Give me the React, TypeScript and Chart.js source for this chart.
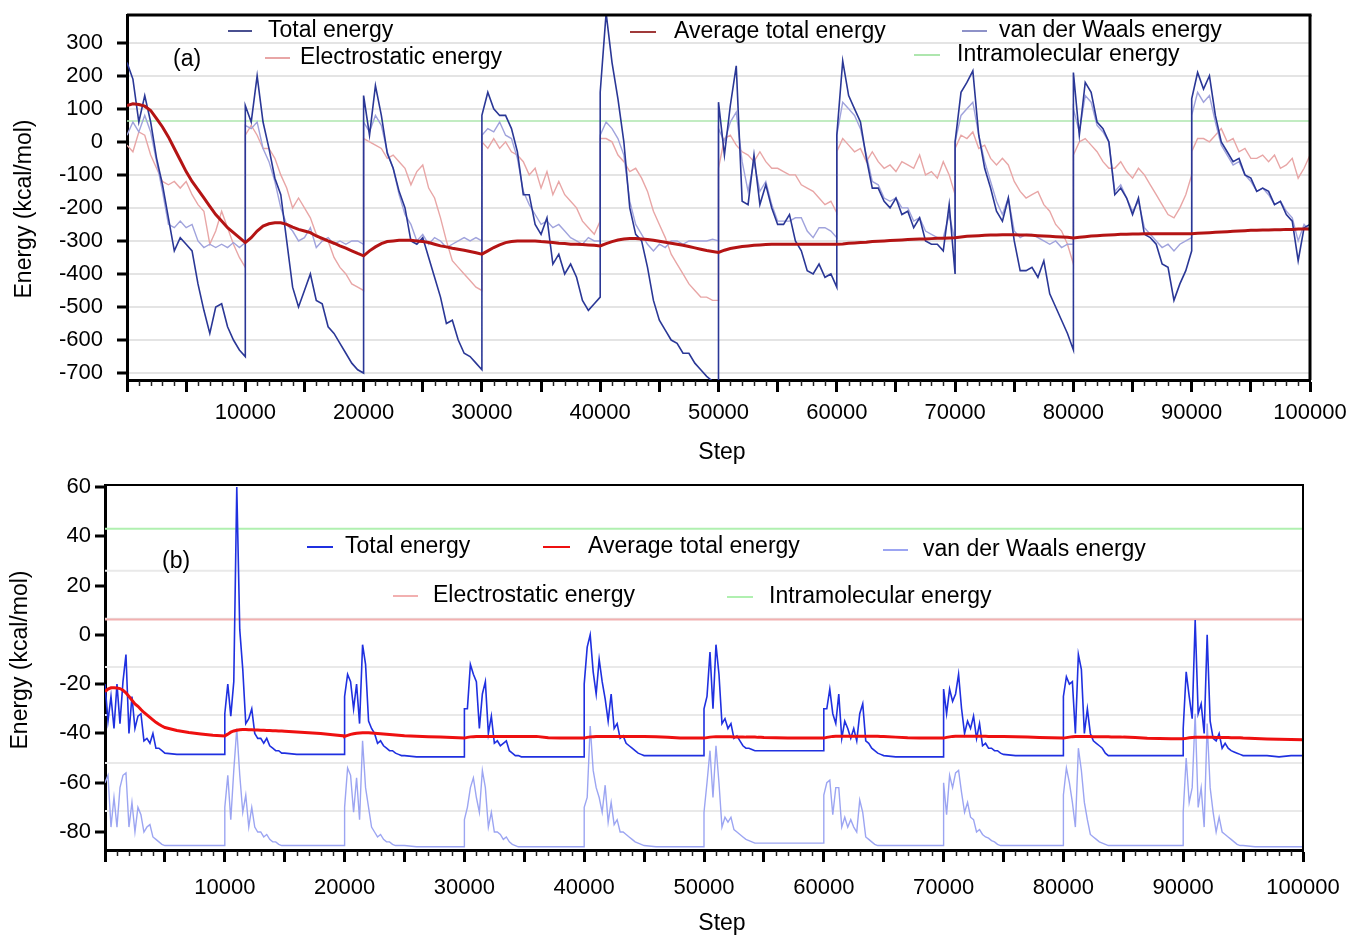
import React, { useEffect, useRef } from 'react';
import { Chart, registerables } from 'chart.js';

Chart.register(...registerables);

// ---------------- data ----------------
const CYCLE_STARTS = [0, 10000, 20000, 30000, 40000, 50000, 60000, 70000, 80000, 90000];
const OFFSETS_A = [0, 500, 1000, 1500, 2000, 2500, 3000, 3500, 4000, 4500, 5000, 5500, 6000, 6500, 7000, 7500, 8000, 8500, 9000, 9500, 10000];
const OFFSETS_B = [0, 250, 500, 750, 1000, 1250, 1500, 1750, 2000, 2250, 2500, 2750, 3000, 3250, 3500, 3750, 4000, 4250, 4500, 4750, 5000, 6000, 7000, 8000, 9000, 10000];
const CONST_STEPS = [0, 100000];
const X_LABELED = [10000, 20000, 30000, 40000, 50000, 60000, 70000, 80000, 90000, 100000];
const Y_TICKS_A = [-700, -600, -500, -400, -300, -200, -100, 0, 100, 200, 300];
const Y_TICKS_B = [-80, -60, -40, -20, 0, 20, 40, 60];
const GRID_B = [26, 6.5, -13, -32.5, -52, -71.5];

const LABEL_TOTAL = 'Total energy';
const LABEL_AVG = 'Average total energy';
const LABEL_VDW = 'van der Waals energy';
const LABEL_ELEC = 'Electrostatic energy';
const LABEL_INTRA = 'Intramolecular energy';
const X_TITLE = 'Step';
const Y_TITLE = 'Energy (kcal/mol)';

// Panel (a): 21 samples per 10000-step cycle
const TOTAL_A = [
  240, 190, 60, 140, 60, -50, -130, -230, -330, -290, -310, -330, -430, -510, -580, -500, -490, -560, -600, -630, -650,
  110, 60, 200, 60, -20, -110, -160, -300, -440, -500, -450, -400, -480, -490, -560, -580, -610, -640, -670, -690, -700,
  140, 20, 170, 80, -35, -80, -150, -200, -300, -310, -290, -350, -410, -470, -550, -540, -600, -640, -650, -670, -690,
  80, 150, 100, 80, 80, 40, -30, -160, -160, -250, -280, -230, -370, -340, -400, -370, -410, -480, -510, -490, -470,
  150, 390, 240, 130, 0, -200, -280, -300, -380, -480, -540, -570, -600, -610, -640, -640, -670, -690, -710, -725, -740,
  120, -40, 110, 230, -180, -190, -40, -190, -130, -200, -250, -250, -220, -300, -330, -390, -400, -370, -410, -400, -440,
  20, 245, 140, 100, 60, -50, -140, -140, -180, -200, -170, -220, -210, -260, -230, -300, -310, -310, -330, -190, -400,
  0, 150, 180, 215, 20, -80, -140, -210, -240, -170, -300, -390, -390, -380, -410, -360, -460, -500, -540, -580, -630,
  210, 20, 180, 150, 60, 40, 0, -160, -140, -170, -220, -170, -280, -290, -310, -370, -380, -480, -430, -390, -330,
  130, 210, 160, 200, 80, 0, -30, -60, -50, -100, -110, -150, -140, -150, -190, -180, -220, -240, -360, -260, -250,
];
const VDW_A = [
  20, 60, 30, 80, 30, -60, -150, -250, -260, -240, -260, -250, -300, -320, -310, -320, -310, -320, -305, -320, -305,
  50, 40, 60, -20, -60, -120, -200, -250, -270, -300, -290, -260, -320, -300, -290, -310, -300, -310, -300, -300, -310,
  60, 30, 80, 50, -30, -80, -160, -220, -250, -300, -280, -310, -290, -300, -320, -310, -300, -290, -300, -290, -300,
  20, 40, 30, 60, 20, 10, -50, -150, -190, -220, -250, -240, -260, -250, -270, -290, -300, -310, -290, -300, -300,
  20, 60, 40, 10, -40, -180, -250, -280, -310, -330, -310, -320, -300, -300, -310, -300, -300, -300, -300, -295, -300,
  40, 0, 60, 90, -60, -150, -60, -150, -120, -190, -240, -240, -240, -230, -230, -270, -290, -260, -260, -270, -290,
  20, 120, 100, 80, 40, -40, -120, -130, -170, -180, -170, -200, -200, -240, -230, -270, -280, -290, -290, -220, -300,
  0, 80, 100, 120, 20, -60, -120, -180, -220, -170, -270, -290, -280, -280, -290, -300, -310, -300, -320, -310, -310,
  100, 30, 140, 120, 50, 30, 0, -150, -130, -170, -210, -180, -260, -280, -300, -320, -310, -330, -310, -300, -290,
  80, 150, 120, 140, 60, -10, -40, -70, -60, -100, -120, -150, -140, -160, -190, -180, -210, -230, -300, -250, -270,
];
const ELEC_A = [
  -10, -30, 30, 20, -40, -80, -120, -130, -120, -140, -120, -160, -190, -210, -310, -270, -210, -260, -310, -350, -380,
  20, 50, 20, -20, -20, -50, -100, -140, -200, -170, -200, -230, -280, -300, -300, -350, -380, -400, -430, -440, -450,
  10, 0, -10, -20, -50, -40, -60, -80, -130, -90, -70, -140, -170, -230, -300, -360, -380, -400, -420, -440, -450,
  0, -20, 10, -20, 0, -30, -40, -60, -100, -80, -140, -90, -160, -120, -160, -180, -200, -240, -260, -280, -240,
  10, 10, 0, -40, -60, -90, -80, -110, -150, -210, -250, -290, -340, -370, -400, -430, -450, -470, -470, -480, -480,
  -80, 10, 20, -10, -30, -40, -60, -30, -60, -80, -80, -90, -100, -100, -130, -140, -150, -170, -190, -180, -215,
  -30, 10, -10, -30, -20, -60, -30, -60, -80, -70, -90, -60, -70, -80, -40, -100, -90, -110, -60, -100, -160,
  -20, 20, 10, 30, -20, -10, -50, -70, -50, -70, -120, -150, -170, -160, -150, -190, -210, -250, -270, -310, -370,
  -40, 0, 10, -10, -30, -60, -80, -80, -60, -90, -110, -80, -100, -130, -160, -190, -220, -230, -200, -160, -100,
  -30, 10, 10, 0, 20, 40, 0, 10, -30, -20, -50, -50, -40, -60, -40, -80, -70, -50, -110, -80, -40,
];
const AVG_A = [
  110, 115, 113, 108, 95, 70, 45, 15, -20, -55, -90, -120, -145, -170, -195, -220, -240, -260, -275, -290, -305,
  -305, -290, -270, -255, -248, -245, -245, -250, -258, -265, -270, -275, -285, -292, -300, -307, -315, -322, -330, -338, -345,
  -345, -330, -318, -308, -302, -300, -298, -298, -298, -300, -302, -305, -310, -315, -318, -322, -325, -328, -332, -336, -340,
  -340, -330, -320, -312, -305, -302, -300, -300, -300, -300, -302, -303, -305, -307, -308, -310, -310, -311, -312, -313, -315,
  -315, -308, -302, -297, -294, -293, -293, -294, -296, -298, -301, -304, -307, -310, -313, -317, -321, -325, -329, -332, -335,
  -335, -328, -323, -320, -317, -315, -313, -312, -311, -310, -310, -310, -310, -310, -310, -310, -310, -310, -310, -310, -310,
  -310, -309, -307, -306, -305, -304, -302, -301, -300, -299, -298, -297, -296, -295, -294, -294, -293, -292, -292, -291, -290,
  -290, -288, -286, -285, -284, -283, -282, -282, -281, -281, -281, -282, -282, -283, -284, -285, -286, -287, -288, -289, -291,
  -291, -289, -287, -285, -284, -283, -282, -281, -280, -280, -279, -279, -278, -278, -278, -278, -278, -278, -278, -278, -278,
  -278, -277, -276, -275, -274, -273, -272, -271, -270, -269, -268, -268, -267, -267, -266, -266, -265, -265, -264, -264, -264,
];
const INTRA_A = [63, 63];

// Panel (b): 26 samples per cycle (dense for the first 5000 steps)
const TOTAL_B = [
  -20, -35, -25, -38, -20, -36, -19, -8, -40, -25, -38, -33, -32, -43, -42, -44, -40, -46, -46, -47, -48, -48.5, -48.5, -48.5, -48.5, -48.5,
  -32, -20, -33, -19, 60, 2, -14, -36, -34, -30, -40, -42, -42, -44, -42, -45, -46, -47, -47, -48, -48, -48.5, -48.5, -48.5, -48.5, -48.5,
  -25, -16, -19, -30, -20, -36, -4, -12, -35, -38, -40, -44, -43, -45, -46, -47, -47, -48, -48.5, -49, -49, -49.5, -49.5, -49.5, -49.5, -49.5,
  -30, -30, -12, -16, -19, -38, -24, -19, -40, -33, -44, -43, -45, -44, -43, -47, -48, -49, -49, -49.5, -49.5, -49.5, -49.5, -49.5, -49.5, -49.5,
  -20, -5, 0, -15, -24, -10, -19, -26, -35, -24, -38, -36, -42, -41, -44, -45, -46, -47, -48, -48.5, -49, -49, -49, -49, -49, -49,
  -30, -25, -7, -30, -4, -16, -36, -34, -38, -36, -42, -41, -43, -45, -46, -46, -46.5, -47, -47, -47, -47, -47, -47, -47, -47, -47,
  -30, -30, -22, -32, -36, -24, -42, -35, -38, -42, -38, -43, -32, -28, -43, -44, -46, -47, -48, -48.5, -49, -49.5, -49.5, -49.5, -49.5, -49.5,
  -22, -32, -22, -27, -24, -16, -30, -40, -35, -38, -33, -42, -36, -45, -44, -46, -46, -47, -47, -48, -48.5, -49, -49, -49, -49, -49,
  -25, -17, -20, -19, -40, -8, -14, -40, -30, -40, -43, -44, -45, -46, -48, -49, -49, -49, -49, -49, -49, -49, -49, -49, -49, -49,
  -38, -15, -25, -34, 6, -32, -28, -40, 0, -35, -42, -43, -40, -46, -44, -46, -47, -47.5, -48, -48.5, -49, -49, -49, -49.5, -49, -49,
];
const VDW_B = [
  -60, -57, -78, -66, -78, -62, -57, -56, -78, -68, -80, -70, -73, -80, -78, -77, -82, -83, -84, -85, -85.5, -85.5, -85.5, -85.5, -85.5, -85.5,
  -70, -57, -75, -55, -38, -57, -72, -65, -78, -70, -78, -80, -80, -82, -81, -83, -84, -84, -85, -85.5, -85.5, -85.5, -85.5, -85.5, -85.5, -85.5,
  -70, -54, -57, -72, -58, -75, -43, -62, -70, -78, -80, -82, -81, -83, -84, -84, -85, -85.5, -85.5, -85.5, -85.5, -86, -86, -86, -86, -86,
  -75, -70, -62, -58, -66, -72, -55, -62, -78, -72, -80, -80, -81, -83, -82, -84, -85, -85.5, -86, -86, -86, -86, -86, -86, -86, -86,
  -70, -66, -37, -55, -62, -66, -72, -61, -76, -68, -77, -75, -80, -80, -81, -82, -83, -84, -84.5, -85, -85.5, -86, -86, -86, -86, -86,
  -72, -60, -47, -66, -45, -60, -78, -74, -76, -74, -79, -80, -81, -82, -83, -83.5, -84, -84.5, -84.5, -84.5, -84.5, -84.5, -84.5, -84.5, -84.5, -84.5,
  -65, -60, -59, -73, -62, -62, -78, -74, -78, -75, -78, -80, -67, -72, -82, -83, -84, -85, -85.5, -85.5, -85.5, -85.5, -85.5, -85.5, -85.5, -85.5,
  -60, -73, -57, -62, -56, -55, -64, -72, -68, -74, -75, -80, -79, -81, -82, -82.5, -83.5, -84, -85, -85.5, -85.5, -85.5, -85.5, -85.5, -85.5, -85.5,
  -65, -54, -60, -68, -78, -46, -55, -68, -75, -81, -82, -83, -84, -84.5, -85, -85.5, -85.5, -85.5, -85.5, -85.5, -85.5, -85.5, -85.5, -85.5, -85.5, -85.5,
  -72, -50, -68, -62, -32, -70, -62, -78, -36, -62, -72, -80, -74, -80, -81, -82, -83, -84, -85, -85.5, -85.5, -86, -86, -86, -86, -86,
];
const AVG_B = [
  -23, -22, -21.5, -21.5, -21.6, -21.8, -22.5, -23.5, -25, -26.5, -28, -29, -30.3, -31.5, -32.5, -33.5, -34.5, -35.5, -36.3, -37, -37.6, -38.8, -39.6, -40.2, -40.7, -41,
  -41, -40.3, -39.5, -39, -38.7, -38.5, -38.4, -38.4, -38.5, -38.5, -38.6, -38.6, -38.7, -38.7, -38.8, -38.8, -38.9, -38.9, -39, -39, -39.1, -39.4, -39.7, -40, -40.5, -41,
  -41.2, -40.8, -40.4, -40.1, -39.9, -39.8, -39.7, -39.7, -39.7, -39.8, -39.9, -40, -40.1, -40.2, -40.3, -40.4, -40.5, -40.6, -40.7, -40.8, -40.9, -41.1, -41.3, -41.5, -41.7, -41.9,
  -41.9, -41.6, -41.4, -41.3, -41.2, -41.2, -41.2, -41.2, -41.2, -41.2, -41.2, -41.2, -41.2, -41.2, -41.2, -41.2, -41.2, -41.2, -41.2, -41.2, -41.2, -41.2, -41.8, -41.9, -41.9, -41.9,
  -41.9, -41.6, -41.4, -41.3, -41.2, -41.2, -41.2, -41.2, -41.2, -41.2, -41.2, -41.2, -41.2, -41.2, -41.2, -41.2, -41.2, -41.2, -41.2, -41.2, -41.2, -41.3, -41.6, -41.9, -41.9, -41.9,
  -41.9, -41.7, -41.5, -41.4, -41.3, -41.3, -41.3, -41.3, -41.3, -41.3, -41.4, -41.4, -41.4, -41.4, -41.5, -41.5, -41.5, -41.5, -41.6, -41.6, -41.7, -41.8, -41.9, -41.9, -41.9, -41.9,
  -41.9, -41.6, -41.4, -41.2, -41.1, -41.1, -41.1, -41.1, -41.1, -41.1, -41.1, -41.1, -41.1, -41.1, -41.1, -41.1, -41.1, -41.1, -41.1, -41.2, -41.2, -41.5, -41.8, -41.9, -41.9, -41.9,
  -41.9, -41.6, -41.4, -41.2, -41.1, -41.1, -41.1, -41.1, -41.1, -41.1, -41.1, -41.1, -41.1, -41.1, -41.1, -41.2, -41.2, -41.2, -41.2, -41.2, -41.2, -41.3, -41.5, -41.7, -41.8, -41.9,
  -41.9, -41.7, -41.5, -41.3, -41.2, -41.2, -41.2, -41.2, -41.2, -41.2, -41.3, -41.3, -41.3, -41.3, -41.3, -41.3, -41.4, -41.4, -41.4, -41.4, -41.5, -41.7, -42, -42.1, -42.2, -42.2,
  -42.2, -42, -41.8, -41.7, -41.6, -41.6, -41.6, -41.6, -41.6, -41.6, -41.6, -41.7, -41.7, -41.7, -41.7, -41.7, -41.8, -41.8, -41.8, -41.8, -41.9, -42.1, -42.3, -42.4, -42.5, -42.6,
];
const ELEC_B = [6.2, 6.2];
const INTRA_B = [43, 43];

// ---------------- helpers ----------------
const FAMILY = '"Liberation Sans", Arial, Helvetica, sans-serif';
const STEPS_A = CYCLE_STARTS.flatMap((c) => OFFSETS_A.map((o) => c + o));
const STEPS_B = CYCLE_STARTS.flatMap((c) => OFFSETS_B.map((o) => c + o));
const pts = (xs: number[], ys: number[]) => xs.map((x, i) => ({ x, y: ys[i] }));

const lineDs = (label: string, xs: number[], ys: number[], color: string, width: number, order: number) => ({
  label,
  data: pts(xs, ys),
  borderColor: color,
  backgroundColor: color,
  borderWidth: width,
  pointRadius: 0,
  tension: 0,
  fill: false,
  order,
});

const panelLegendPlugin = {
  id: 'panelLegend',
  afterDraw(chart: any, _a: any, o: any) {
    const ctx = chart.ctx;
    ctx.save();
    ctx.font = o.font;
    ctx.textBaseline = 'middle';
    ctx.textAlign = 'left';
    for (const it of o.items) {
      const ds = chart.data.datasets[it.ds];
      ctx.strokeStyle = it.color || ds.borderColor;
      ctx.lineWidth = 2;
      ctx.beginPath();
      ctx.moveTo(it.x0, it.y);
      ctx.lineTo(it.x1, it.y);
      ctx.stroke();
      ctx.fillStyle = '#000';
      ctx.fillText(ds.label, it.tx, it.y);
    }
    ctx.fillStyle = '#000';
    ctx.fillText(o.tag.text, o.tag.x, o.tag.y);
    // axis titles
    ctx.textAlign = 'center';
    ctx.fillText(o.xTitle.text, o.xTitle.x, o.xTitle.y);
    ctx.translate(o.yTitle.x, o.yTitle.y);
    ctx.rotate(-Math.PI / 2);
    ctx.fillText(o.yTitle.text, 0, 0);
    ctx.restore();
  },
};

const minorTicksPlugin = {
  id: 'minorTicks',
  afterDraw(chart: any, _a: any, o: any) {
    const sc = chart.scales.x;
    const { ctx, chartArea } = chart;
    ctx.save();
    ctx.strokeStyle = o.color;
    ctx.lineWidth = o.width;
    for (let v = sc.min; v <= sc.max; v += o.step) {
      if (v % o.major === 0) continue;
      const px = Math.round(sc.getPixelForValue(v)) + 0.5;
      ctx.beginPath();
      ctx.moveTo(px, chartArea.bottom + 1);
      ctx.lineTo(px, chartArea.bottom + 1 + o.length);
      ctx.stroke();
    }
    ctx.restore();
  },
};

const framePlugin = {
  id: 'frame',
  afterDatasetsDraw(chart: any, _a: any, o: any) {
    const { ctx, chartArea: a } = chart;
    ctx.save();
    ctx.strokeStyle = o.color;
    ctx.lineWidth = o.top;
    ctx.beginPath();
    ctx.moveTo(a.left, a.top);
    ctx.lineTo(a.right + o.right / 2, a.top);
    ctx.stroke();
    ctx.lineWidth = o.right;
    ctx.beginPath();
    ctx.moveTo(a.right, a.top);
    ctx.lineTo(a.right, a.bottom);
    ctx.stroke();
    ctx.restore();
  },
};

const extraGridPlugin = {
  id: 'extraGrid',
  beforeDatasetsDraw(chart: any, _a: any, o: any) {
    if (!o.values || !o.values.length) return;
    const sc = chart.scales.y;
    const { ctx, chartArea: a } = chart;
    ctx.save();
    ctx.strokeStyle = o.color;
    ctx.lineWidth = o.width;
    for (const v of o.values) {
      const py = sc.getPixelForValue(v);
      ctx.beginPath();
      ctx.moveTo(a.left, py);
      ctx.lineTo(a.right, py);
      ctx.stroke();
    }
    ctx.restore();
  },
};

function panelConfig(s: any) {
  const font = { family: FAMILY, size: 22 };
  return {
    type: 'line',
    data: { datasets: s.datasets },
    options: {
      responsive: false,
      animation: false,
      devicePixelRatio: 1,
      events: [],
      layout: { padding: { left: 0, right: s.padRight, top: 15, bottom: 0 }, autoPadding: false },
      plugins: {
        legend: { display: false },
        tooltip: { enabled: false },
        panelLegend: {
          items: s.legend,
          tag: s.tag,
          font: `23px ${FAMILY}`,
          xTitle: { text: X_TITLE, x: 722, y: s.xTitleY },
          yTitle: { text: Y_TITLE, x: s.yTitleX, y: s.yTitleY },
        },
        minorTicks: { step: 1000, major: 5000, length: 5, width: 1.5, color: '#222' },
        frame: { color: '#000', top: s.frameTop, right: s.frameRight },
        extraGrid: { values: s.extraGrid, color: '#e9e9e9', width: 2 },
      },
      scales: {
        x: {
          type: 'linear',
          min: 0,
          max: 100000,
          afterFit: (sc: any) => {
            sc.height = s.xAxisHeight;
            sc.paddingLeft = 0;
            sc.paddingRight = 0;
            sc.paddingTop = 0;
            sc.paddingBottom = 0;
          },
          ticks: {
            stepSize: 5000,
            autoSkip: false,
            maxRotation: 0,
            minRotation: 0,
            padding: s.xTickPad,
            color: '#000',
            font,
            callback: (v: any) => (X_LABELED.includes(Number(v)) ? String(v) : ''),
          },
          grid: { drawOnChartArea: false, drawTicks: true, tickLength: 12, tickWidth: 3, tickColor: '#000' },
          border: { display: true, color: '#000', width: 3 },
          title: { display: false },
        },
        y: {
          type: 'linear',
          min: s.yMin,
          max: s.yMax,
          afterBuildTicks: (sc: any) => {
            sc.ticks = s.yTicks.map((v: number) => ({ value: v }));
          },
          afterFit: (sc: any) => {
            sc.width = s.yAxisWidth;
            sc.paddingTop = 0;
            sc.paddingBottom = 0;
            sc.paddingLeft = 0;
            sc.paddingRight = 0;
          },
          ticks: { padding: s.yTickPad, color: '#000', font, callback: (v: any) => String(v) },
          grid: {
            drawOnChartArea: s.yGridOnArea,
            color: '#e4e4e4',
            lineWidth: 2,
            drawTicks: true,
            tickLength: 10,
            tickWidth: 3,
            tickColor: '#000',
          },
          border: { display: true, color: '#000', width: 3 },
          title: { display: false },
        },
      },
    },
    plugins: [extraGridPlugin, framePlugin, minorTicksPlugin, panelLegendPlugin],
  };
}

function configA() {
  const datasets = [
    lineDs(LABEL_TOTAL, STEPS_A, TOTAL_A, '#2a3796', 1.6, 1),
    lineDs(LABEL_ELEC, STEPS_A, ELEC_A, '#e8a6a6', 1.4, 3),
    lineDs(LABEL_AVG, STEPS_A, AVG_A, '#b41414', 3, 0),
    lineDs(LABEL_VDW, STEPS_A, VDW_A, '#a0a3dc', 1.4, 2),
    lineDs(LABEL_INTRA, CONST_STEPS, INTRA_A, '#aee6ae', 1.5, 4),
  ];
  return panelConfig({
    datasets,
    padRight: 44,
    xAxisHeight: 90,
    xTickPad: 8,
    yMin: -721,
    yMax: 384,
    yTicks: Y_TICKS_A,
    yAxisWidth: 127,
    yTickPad: 14,
    yGridOnArea: true,
    extraGrid: [],
    frameTop: 3,
    frameRight: 3,
    xTitleY: 453,
    yTitleX: 25,
    yTitleY: 209,
    legend: [
      { ds: 0, x0: 228, x1: 252, y: 31, tx: 268, color: '#4a5090' },
      { ds: 1, x0: 265, x1: 290, y: 58, tx: 300 },
      { ds: 2, x0: 630, x1: 656, y: 32, tx: 674, color: '#a03a3a' },
      { ds: 3, x0: 962, x1: 987, y: 31, tx: 999, color: '#8e92c8' },
      { ds: 4, x0: 914, x1: 940, y: 55, tx: 957 },
    ],
    tag: { text: '(a)', x: 173, y: 60 },
  });
}

function configB() {
  const datasets = [
    lineDs(LABEL_TOTAL, STEPS_B, TOTAL_B, '#1f30e0', 1.6, 1),
    lineDs(LABEL_AVG, STEPS_B, AVG_B, '#ee1010', 3, 0),
    lineDs(LABEL_VDW, STEPS_B, VDW_B, '#9ca5f2', 1.4, 2),
    lineDs(LABEL_ELEC, CONST_STEPS, ELEC_B, '#f2b0b0', 2, 3),
    lineDs(LABEL_INTRA, CONST_STEPS, INTRA_B, '#b0f0b0', 2, 4),
  ];
  return panelConfig({
    datasets,
    padRight: 51,
    xAxisHeight: 87,
    xTickPad: 13,
    yMin: -87.3,
    yMax: 60.8,
    yTicks: Y_TICKS_B,
    yAxisWidth: 105,
    yTickPad: 4,
    yGridOnArea: false,
    extraGrid: GRID_B,
    frameTop: 2,
    frameRight: 2,
    xTitleY: 454,
    yTitleX: 21,
    yTitleY: 190,
    legend: [
      { ds: 0, x0: 307, x1: 333, y: 77, tx: 345 },
      { ds: 1, x0: 543, x1: 570, y: 77, tx: 588 },
      { ds: 2, x0: 883, x1: 908, y: 80, tx: 923 },
      { ds: 3, x0: 393, x1: 418, y: 126, tx: 433 },
      { ds: 4, x0: 727, x1: 753, y: 127, tx: 769 },
    ],
    tag: { text: '(b)', x: 162, y: 92 },
  });
}

export default function App() {
  const refA = useRef<HTMLCanvasElement>(null);
  const refB = useRef<HTMLCanvasElement>(null);
  useEffect(() => {
    const a = new Chart(refA.current as HTMLCanvasElement, configA() as any);
    const b = new Chart(refB.current as HTMLCanvasElement, configB() as any);
    return () => {
      a.destroy();
      b.destroy();
    };
  }, []);
  return (
    <div style={{ position: 'absolute', left: 0, top: 0, width: 1354, height: 937, background: '#fff' }}>
      <canvas
        ref={refA}
        width={1354}
        height={470}
        style={{ position: 'absolute', left: 0, top: 0, width: 1354, height: 470 }}
      />
      <canvas
        ref={refB}
        width={1354}
        height={467}
        style={{ position: 'absolute', left: 0, top: 470, width: 1354, height: 467 }}
      />
    </div>
  );
}
